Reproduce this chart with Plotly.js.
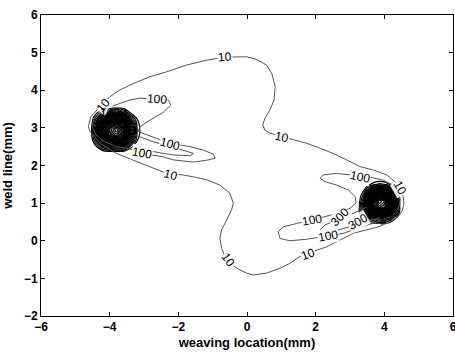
<!DOCTYPE html>
<html>
<head>
<meta charset="utf-8">
<script src="https://cdn.plot.ly/plotly-3.0.1.min.js"></script>
<style>html,body{margin:0;padding:0;background:#fff;}#chart{width:455px;height:354px;}</style>
</head>
<body>
<div id="chart"></div>
<script>
// ---- contour line "10" (outer S-shaped loop) ----
const c10X = [-4.28,-3.99,-3.70,-3.31,-2.83,-2.34,-1.76,-1.17,-0.64,-0.01,0.28,0.57,0.72,0.82,0.79,0.67,0.52,0.46,0.52,0.67,1.01,1.35,1.74,2.13,2.51,2.90,3.29,3.68,4.07,4.31,4.46,4.55,4.57,4.53,4.41,4.17,3.87,3.49,3.10,2.71,2.32,1.79,1.54,1.25,0.96,0.57,0.18,-0.01,-0.30,-0.59,-0.74,-0.79,-0.74,-0.59,-0.45,-0.40,-0.50,-0.79,-1.17,-1.56,-1.95,-2.34,-2.82,-3.31,-3.80,-4.28,-4.57,-4.62,-4.55,-4.28];
const c10Y = [3.56,3.83,4.01,4.18,4.36,4.49,4.67,4.80,4.88,4.89,4.82,4.67,4.45,4.10,3.74,3.48,3.25,3.08,2.94,2.86,2.77,2.68,2.59,2.46,2.32,2.15,1.97,1.88,1.75,1.57,1.39,1.17,1.00,0.82,0.64,0.51,0.38,0.29,0.20,0.02,-0.16,-0.33,-0.42,-0.60,-0.73,-0.86,-0.91,-0.86,-0.73,-0.51,-0.20,0.07,0.29,0.55,0.82,1.00,1.26,1.48,1.62,1.70,1.76,1.79,1.97,2.15,2.32,2.59,2.90,3.03,3.30,3.56];

// ---- contour line "100" around the left peak ----
const c100LX = [-4.28,-4.04,-3.70,-3.41,-3.12,-2.63,-2.29,-2.22,-2.44,-2.82,-3.12,-3.17,-2.92,-2.63,-2.24,-1.66,-1.27,-0.98,-0.93,-1.17,-1.56,-2.15,-2.44,-3.07,-3.41,-3.80,-4.14,-4.40,-4.50,-4.47,-4.28];
const c100LY = [3.39,3.54,3.65,3.74,3.79,3.77,3.74,3.61,3.41,3.21,3.03,2.90,2.81,2.72,2.59,2.50,2.41,2.30,2.19,2.14,2.09,2.15,2.23,2.32,2.44,2.50,2.63,2.81,3.03,3.25,3.39];
// ---- inner contour "300" on the left ----
const c300LX = [-3.26,-2.73,-2.05,-1.56,-1.66,-2.15,-2.73,-3.21];
const c300LY = [2.81,2.63,2.46,2.32,2.26,2.28,2.37,2.50];

// ---- contour line "100" around the right peak ----
const c100RX = [3.58,3.97,4.26,4.41,4.46,4.41,4.26,3.97,3.58,3.20,2.81,2.37,1.74,1.25,0.96,0.91,1.06,1.45,1.93,2.61,3.00,3.18,3.15,2.95,2.61,2.27,2.13,2.22,2.61,3.00,3.29,3.58];
const c100RY = [1.69,1.61,1.48,1.30,1.08,0.86,0.68,0.55,0.44,0.33,0.20,0.13,0.04,0.00,0.06,0.24,0.37,0.46,0.55,0.73,0.86,1.01,1.17,1.35,1.48,1.57,1.66,1.75,1.79,1.75,1.70,1.69];
// ---- inner contour "300" on the right ----
const c300RX = [3.49,3.10,2.61,2.27,2.13,2.27,2.71,3.20,3.58,3.87];
const c300RY = [0.90,0.73,0.55,0.42,0.29,0.20,0.30,0.42,0.53,0.62];

// ---- dense peaks (grid values) ----
const peakLX = [-4.55,-4.40,-4.20,-4.00,-3.80,-3.60,-3.40,-3.20,-3.05];
const peakLY = [2.35,2.50,2.65,2.80,2.95,3.10,3.25,3.40,3.55];
const peakLZ = [
  [ 20,  60, 120, 180, 200, 170,  90,  30, 20],
  [ 60, 250, 700,1000,1100, 950, 400, 120, 60],
  [100, 600,1700,2500,2800,2300,1000, 300,100],
  [150, 900,2600,3900,4400,3700,1500, 420,150],
  [160,1000,2800,4200,4800,4000,1700, 450,160],
  [140, 850,2400,3600,4100,3400,1400, 400,140],
  [100, 550,1500,2300,2600,2100, 800, 280,100],
  [ 50, 220, 600, 900,1000, 800, 300, 100, 50],
  [ 20,  50, 120, 180, 200, 160,  70,  30, 20]
];
const peakRX = [3.25,3.40,3.55,3.70,3.85,4.00,4.15,4.30,4.45,4.60];
const peakRY = [0.45,0.60,0.75,0.90,1.05,1.20,1.35,1.50,1.65];
const peakRZ = [
  [ 60, 120, 200, 260, 280, 260, 200, 120,  60, 20],
  [150, 350, 700, 950,1000, 900, 700, 350, 120, 40],
  [280, 900,1900,2600,2900,2700,2100, 900, 250, 60],
  [250,1000,2600,3800,4400,4200,3200,1300, 300, 70],
  [150, 800,2500,3900,4800,4500,3400,1400, 280, 70],
  [100, 550,1800,3000,3600,3400,2600,1000, 250, 60],
  [ 50, 250, 800,1400,1800,1600,1200, 450, 150, 40],
  [ 20,  80, 250, 400, 500, 450, 300, 150,  60, 20],
  [ 10,  30,  60, 100, 120, 110,  80,  40,  20, 10]
];

// ---- contour labels ----
const labelX = [-0.64,-4.18,1.01,4.46,1.79,-0.55,-2.22,-2.63,-2.24,-3.07,3.29,1.90,2.37,2.71,3.22,-3.88,4.10];
const labelY = [4.88,3.62,2.77,1.40,-0.34,-0.52,1.76,3.78,2.58,2.33,1.69,0.55,0.13,0.62,0.50,3.40,0.62];
const labelText = ['10','10','10','10','10','10','10','100','100','100','100','100','100','300','300','1000','400'];
const labelAngle = [-5,-50,12,60,-20,55,15,5,15,10,12,-10,-10,-45,-30,0,-40];

const lineStyle = {color:'#555', width:1};
const lines = [[c10X,c10Y],[c100LX,c100LY],[c300LX,c300LY],[c100RX,c100RY],[c300RX,c300RY]];
const traces = lines.map(p => ({type:'scatter', mode:'lines', x:p[0], y:p[1], line:lineStyle, hoverinfo:'skip', showlegend:false}));

function peak(x,y,z){
  return {type:'contour', x:x, y:y, z:z, autocontour:false,
    contours:{start:300,end:4800,size:150,coloring:'lines',showlabels:false},
    colorscale:[[0,'#000'],[1,'#000']], showscale:false, line:{width:1.2, smoothing:1},
    hoverinfo:'skip'};
}
traces.push(peak(peakLX,peakLY,peakLZ));
traces.push(peak(peakRX,peakRY,peakRZ));

const annotations = labelText.map((t,i) => ({
  x:labelX[i], y:labelY[i], xref:'x', yref:'y', text:t, showarrow:false,
  textangle:labelAngle[i], bgcolor:(t==='1000'||t==='400') ? 'rgba(0,0,0,0)' : 'rgba(255,255,255,0.9)', borderpad:0,
  font:{family:'Liberation Sans, Arial, sans-serif', size:12, color:'#000'}
}));

const fontB = {family:'Liberation Sans, Arial, sans-serif', size:12, color:'#000', weight:'bold'};
const layout = {
  width:455, height:354,
  margin:{l:41, r:2, t:15, b:38},
  paper_bgcolor:'#fff', plot_bgcolor:'#fff',
  showlegend:false,
  xaxis:{range:[-6,6], tickvals:[-6,-4,-2,0,2,4,6], ticks:'inside', ticklen:4, tickcolor:'#000',
    showline:true, linecolor:'#000', linewidth:1, mirror:'ticks', showgrid:false, zeroline:false,
    tickfont:fontB, fixedrange:true, ticklabeloverflow:'allow',
    title:{text:'weaving location(mm)', font:{family:'Liberation Sans, Arial, sans-serif', size:13, color:'#000', weight:'bold'}, standoff:4}},
  yaxis:{range:[-2,6], tickvals:[-2,-1,0,1,2,3,4,5,6], ticks:'inside', ticklen:4, tickcolor:'#000',
    showline:true, linecolor:'#000', linewidth:1, mirror:'ticks', showgrid:false, zeroline:false,
    tickfont:fontB, fixedrange:true,
    title:{text:'weld line(mm)', font:{family:'Liberation Sans, Arial, sans-serif', size:13, color:'#000', weight:'bold'}, standoff:9}},
  annotations:annotations
};
Plotly.newPlot('chart', traces, layout, {displayModeBar:false, staticPlot:true});
</script>
</body>
</html>
